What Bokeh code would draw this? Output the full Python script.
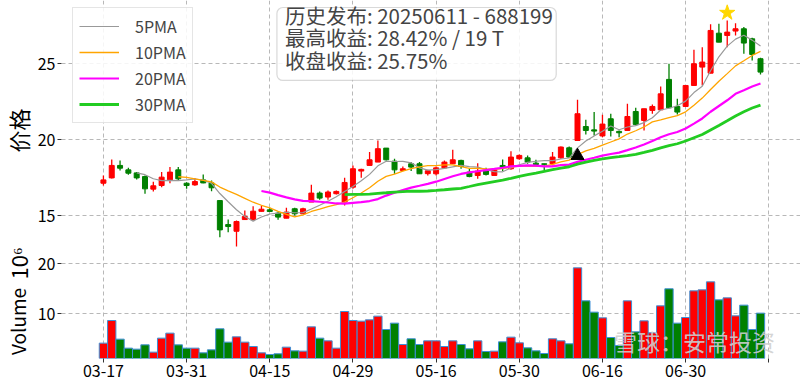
import math
import pandas as pd
from bokeh.plotting import figure
from bokeh.models import (ColumnDataSource, Range1d, FixedTicker, Label, Legend, LegendItem,
                          BoxAnnotation)
from bokeh.layouts import column, row
from bokeh.embed import file_html
from bokeh.resources import INLINE

FONT = "Noto Sans CJK SC"

# ---------------- data (80 trading days, 2025-03-17 .. 2025-07-11) ----------------
opens = [17.14, 17.49, 18.31, 18.02, 17.82, 17.58, 16.75, 16.99, 17.36, 18.02,
         17.14, 17.03, 17.36, 17.16, 16.00, 14.42, 13.98, 14.75, 14.75, 15.29,
         15.39, 15.17, 14.84, 15.46, 15.13, 15.90, 16.49, 16.23, 16.45, 15.90,
         16.88, 17.94, 18.31, 18.53, 19.45, 18.59, 17.98, 18.42, 18.42, 17.77,
         17.76, 18.15, 18.42, 18.64, 17.87, 17.65, 17.98, 17.65, 18.31, 18.09,
         18.75, 18.81, 18.46, 18.42, 18.42, 18.81, 19.47, 19.95, 20.87, 20.65,
         20.25, 21.38, 20.55, 20.61, 21.86, 21.27, 21.93, 21.97, 23.97, 22.19,
         22.19, 23.57, 24.78, 24.38, 27.01, 26.86, 27.15, 27.30, 26.64, 25.33]
highs = [17.65, 18.70, 18.63, 18.15, 17.87, 17.65, 17.23, 17.87, 18.20, 18.20,
         17.21, 17.49, 17.71, 17.32, 16.00, 14.75, 14.69, 15.34, 15.63, 15.67,
         15.52, 15.24, 15.52, 15.52, 15.52, 17.04, 16.60, 16.66, 16.66, 17.50,
         18.31, 18.09, 19.19, 19.95, 19.45, 18.75, 18.24, 18.53, 18.53, 18.02,
         18.24, 18.64, 19.34, 18.68, 18.09, 18.46, 18.15, 18.09, 18.70, 19.25,
         19.03, 18.97, 18.68, 18.42, 19.19, 19.56, 19.56, 22.63, 21.31, 21.82,
         21.65, 21.71, 20.61, 22.37, 22.10, 22.04, 22.32, 23.50, 25.00, 22.69,
         23.57, 25.92, 26.09, 27.59, 27.63, 27.85, 27.67, 27.41, 26.71, 25.39]
lows = [16.99, 17.45, 17.98, 17.69, 17.38, 16.44, 16.60, 16.88, 17.14, 17.36,
        16.77, 16.97, 17.14, 16.62, 13.59, 13.92, 12.98, 14.75, 14.69, 15.28,
        15.24, 14.73, 14.84, 15.02, 15.13, 15.90, 16.05, 16.05, 16.40, 15.68,
        16.77, 17.50, 18.31, 18.53, 18.64, 17.76, 17.98, 17.94, 17.76, 17.65,
        17.65, 18.09, 18.42, 18.09, 17.54, 17.43, 17.65, 17.65, 17.94, 18.02,
        18.68, 18.42, 18.31, 17.94, 18.31, 18.75, 18.81, 19.95, 20.35, 20.28,
        20.17, 20.22, 20.17, 20.61, 20.94, 20.61, 21.71, 21.97, 22.10, 21.66,
        22.19, 23.57, 23.57, 24.38, 26.42, 26.09, 26.86, 25.66, 25.22, 24.30]
closes = [17.36, 18.31, 18.13, 17.80, 17.49, 16.77, 16.97, 17.54, 17.87, 17.43,
          16.99, 17.25, 17.16, 16.84, 14.07, 14.29, 14.62, 14.95, 15.30, 15.43,
          15.28, 14.91, 15.24, 15.13, 15.46, 16.49, 16.16, 16.56, 16.60, 17.19,
          18.09, 18.05, 18.68, 19.41, 18.68, 18.02, 18.09, 18.20, 17.76, 17.96,
          18.15, 18.53, 18.68, 18.24, 17.58, 17.94, 17.72, 18.02, 18.20, 18.86,
          18.97, 18.53, 18.37, 18.38, 18.86, 19.52, 18.86, 21.71, 20.61, 20.57,
          21.03, 20.61, 20.46, 21.53, 21.01, 22.04, 22.19, 23.02, 22.10, 21.82,
          23.57, 25.00, 25.11, 27.19, 26.42, 27.08, 27.30, 26.36, 25.61, 24.45]
volumes_m = [4.13, 8.66, 4.93, 3.13, 2.93, 3.79, 2.33, 5.13, 6.13, 3.79,
             3.13, 3.13, 2.19, 2.79, 7.00, 4.33, 5.39, 4.33, 3.46, 2.19,
             1.86, 2.00, 3.33, 2.59, 2.53, 7.39, 5.13, 4.59, 3.13, 10.46,
             8.66, 8.53, 8.79, 9.53, 6.86, 8.13, 3.86, 5.00, 3.86, 4.59,
             4.59, 3.46, 4.59, 3.86, 3.00, 4.59, 2.46, 2.53, 4.39, 5.33,
             4.19, 3.19, 2.59, 2.06, 5.00, 4.59, 4.00, 19.19, 12.59, 10.33,
             9.19, 5.26, 3.66, 12.59, 6.39, 8.59, 6.19, 11.59, 15.00, 8.13,
             9.26, 14.59, 14.79, 16.39, 12.79, 13.19, 9.59, 11.73, 6.86, 10.13]

tick_index = [0, 10, 20, 30, 40, 50, 60, 70, 80]
tick_labels = ["03-17", "03-31", "04-15", "04-29", "05-16", "05-30", "06-16", "06-30", ""]

ma_windows = [5, 10, 20, 30]
ma_names = ["5PMA", "10PMA", "20PMA", "30PMA"]

buy_index, buy_marker_price = 57, 18.95     # 20250611 signal
peak_index, peak_marker_price = 75, 28.35   # highest point

info_text = "历史发布: 20250611 - 688199\n最高收益: 28.42% / 19 T\n收盘收益: 25.75%"
price_label = "价格"
volume_label = "Volume"
volume_scale_label = "10⁶"
watermark = "雪球：安常投资"

# ---------------- derived ----------------
UP, DOWN = "#ff0000", "#008000"
idx = list(range(len(closes)))
colors = [UP if c >= o else DOWN for o, c in zip(opens, closes)]
src = ColumnDataSource(dict(
    x=idx, o=opens, h=highs, l=lows, c=closes, v=volumes_m, color=colors,
    top=[max(o, c) for o, c in zip(opens, closes)],
    bottom=[min(o, c) for o, c in zip(opens, closes)],
))
ma_vals = [pd.Series(closes).rolling(w).mean().tolist() for w in ma_windows]

LW = 34                      # strip holding the vertical axis titles
W = 800 - LW
H1, H2 = 249, 135
LEFT = 59 - LW
x_range = Range1d(-5.04, 83.81)
GRID = dict(grid_line_color="#b8b8b8", grid_line_dash="4 3", grid_line_width=1)


def style_axis(ax, size="16px"):
    ax.axis_line_color = None
    ax.major_tick_out = 4
    ax.major_tick_in = 0
    ax.minor_tick_line_color = None
    ax.major_tick_line_color = "#333333"
    ax.major_label_text_font = FONT
    ax.major_label_text_font_size = size
    ax.major_label_text_color = "black"
    ax.major_label_standoff = 2


def style_grid(p):
    for g in (p.xgrid[0], p.ygrid[0]):
        for k, val in GRID.items():
            setattr(g, k, val)


# ---------------- axis-title strip ----------------
p0 = figure(width=LW, height=H1 + H2, x_range=Range1d(0, LW), y_range=Range1d(H1 + H2, 0),
            output_backend="svg", toolbar_location=None,
            min_border_left=0, min_border_right=0, min_border_top=0, min_border_bottom=0)
p0.axis.visible = False
p0.grid.visible = False
p0.outline_line_color = None
for txt, yc, fs in [(price_label, 130, "22px"), (volume_scale_label, 263, "22px"),
                    (volume_label, 321, "19px")]:
    p0.add_layout(Label(x=17, y=yc, text=txt, angle=math.pi / 2, text_font=FONT,
                        text_font_size=fs, text_align="center", text_baseline="middle",
                        text_color="black"))

# ---------------- price panel ----------------
p1 = figure(width=W, height=H1, x_range=x_range, y_range=Range1d(12.78, 29.16),
            output_backend="svg", toolbar_location=None,
            min_border_left=LEFT, min_border_right=0, min_border_top=0, min_border_bottom=0)
p1.outline_line_color = None
p1.xaxis.visible = False
p1.xgrid.ticker = FixedTicker(ticks=tick_index)
p1.yaxis.ticker = FixedTicker(ticks=[15, 20, 25])
style_axis(p1.yaxis[0])
style_grid(p1)

p1.segment(x0="x", y0="l", x1="x", y1="h", color="color", line_width=1.3, source=src)
p1.vbar(x="x", top="top", bottom="bottom", width=0.6, fill_color="color",
        line_color="color", source=src)

ma_colors = ["#999999", "#ffa500", "#ff00ff", "#22cc22"]
ma_widths = [1.2, 1.3, 2.2, 2.8]
items = []
for name, vals, col, lw in zip(ma_names, ma_vals, ma_colors, ma_widths):
    r = p1.line(idx, vals, line_color=col, line_width=lw)
    items.append(LegendItem(label=name, renderers=[r]))

p1.scatter([buy_index], [buy_marker_price], marker="triangle", size=13, color="black")
p1.scatter([peak_index], [peak_marker_price], marker="star", size=16,
           fill_color="#ffd700", line_color="#ffd700")

legend = Legend(items=items, location=(11, 126), margin=0, padding=6, spacing=2,
                glyph_width=40, glyph_height=20, label_height=20, label_standoff=16,
                label_text_font=FONT, label_text_font_size="16px",
                border_line_color="#cccccc", background_fill_alpha=0.85)
p1.add_layout(legend, "center")

info_box = BoxAnnotation(left=20.86, right=54.44, top=28.70, bottom=23.90,
                         fill_color="white", fill_alpha=0.85,
                         line_color="#808080", line_width=1.2, border_radius=6)
p1.add_layout(info_box)
info = Label(x=21.82, y=29.22, text=info_text, text_font=FONT, text_font_size="20.5px",
             text_align="left", text_baseline="top", text_line_height=0.75)
p1.add_layout(info)

# ---------------- volume panel ----------------
p2 = figure(width=W, height=H2, x_range=x_range, y_range=Range1d(1.06, 22.86),
            output_backend="svg", toolbar_location=None,
            min_border_left=LEFT, min_border_right=0, min_border_top=0, min_border_bottom=26)
p2.outline_line_color = None
p2.xaxis.ticker = FixedTicker(ticks=tick_index)
p2.xaxis.major_label_overrides = {t: lab for t, lab in zip(tick_index, tick_labels)}
style_axis(p2.xaxis[0])
p2.yaxis.ticker = FixedTicker(ticks=[10, 20])
style_axis(p2.yaxis[0])
style_grid(p2)

p2.vbar(x="x", top="v", bottom=0, width=1.0, fill_color="color",
        line_color="#3d8fd6", line_width=1, source=src)

wm = Label(x=61.4, y=1.1, text=watermark, text_font=FONT, text_font_size="23px",
           text_color="#cfcfcf", text_alpha=0.9, text_align="left", text_baseline="bottom")
p2.add_layout(wm)

layout = row(p0, column(p1, p2, spacing=0), spacing=0)
open("out.html", "w").write(file_html(layout, INLINE))
